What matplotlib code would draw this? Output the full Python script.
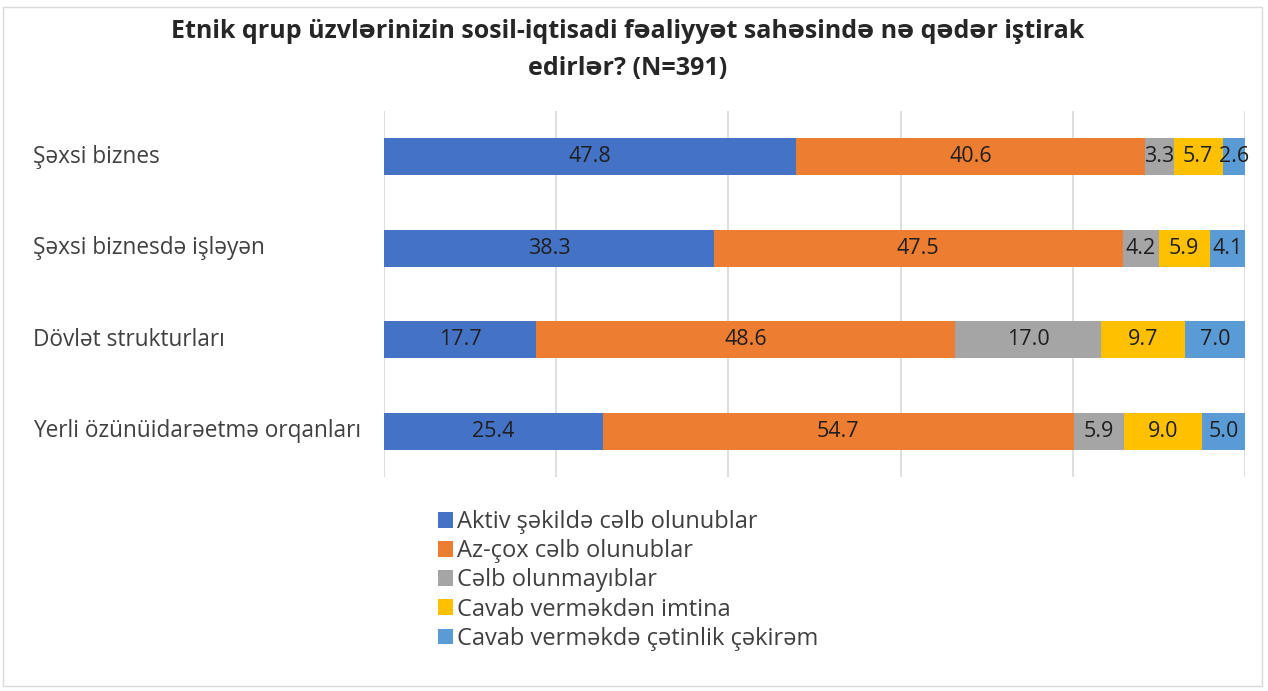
import numpy as np
import matplotlib.pyplot as plt
from matplotlib.patches import Rectangle
from matplotlib.transforms import blended_transform_factory

# Kateqoriyalar və seriyalar
categories = ['Şəxsi biznes', 'Şəxsi biznesdə işləyən', 'Dövlət strukturları',
              'Yerli özünüidarəetmə orqanları']
series_names = ['Aktiv şəkildə cəlb olunublar', 'Az-çox cəlb olunublar',
                'Cəlb olunmayıblar', 'Cavab verməkdən imtina',
                'Cavab verməkdə çətinlik çəkirəm']
aktiv = [47.8, 38.3, 17.7, 25.4]
az_cox = [40.6, 47.5, 48.6, 54.7]
celb_olunmayib = [3.3, 4.2, 17.0, 5.9]
imtina = [5.7, 5.9, 9.7, 9.0]
cetinlik = [2.6, 4.1, 7.0, 5.0]

colors = ['#4472C4', '#ED7D31', '#A5A5A5', '#FFC000', '#5B9BD5']
values = [aktiv, az_cox, celb_olunmayib, imtina, cetinlik]

plt.rcParams['font.family'] = ['Open Sans', 'DejaVu Sans']

fig = plt.figure(figsize=(12.68, 6.91), dpi=100)
ax = fig.add_axes([384 / 1268, 1 - 477 / 691, (1245 - 384) / 1268, (477 - 111) / 691])

y = np.arange(len(categories))
left = np.zeros(len(categories))
for name, vals, col in zip(series_names, values, colors):
    vals = np.array(vals)
    bars = ax.barh(y, vals, left=left, height=0.4, color=col, label=name, zorder=3)
    ax.bar_label(bars, labels=[f'{v:.1f}' for v in vals], label_type='center',
                 fontsize=15.5, color='#1f1f1f')
    left += vals

ax.set_xlim(0, 100)
ax.set_ylim(len(categories) - 0.5, -0.5)
ax.set_xticks(np.arange(0, 101, 20))
ax.xaxis.grid(True, color='#D9D9D9', linewidth=1.2, zorder=0)
ax.tick_params(axis='both', length=0, labelbottom=False)
ax.set_yticks(y)
ax.set_yticklabels([])
for s in ax.spines.values():
    s.set_visible(False)

# Kateqoriya adları (sola düzlənmiş)
trans = blended_transform_factory(fig.transFigure, ax.transData)
for yi, cat in zip(y, categories):
    fig.text(33 / 1268, yi, cat, fontsize=16.3, color='#404040',
             ha='left', va='center', transform=trans)

fig.text(628 / 1268, 1 - 50 / 691,
         'Etnik qrup üzvlərinizin sosil-iqtisadi fəaliyyət sahəsində nə qədər iştirak\nedirlər? (N=391)',
         ha='center', va='center', fontsize=18, fontweight='bold', color='#262626',
         linespacing=1.65)

leg = fig.legend(loc='upper left', bbox_to_anchor=(438 / 1268, 1 - 510 / 691),
                 frameon=False, fontsize=17, handlelength=0.65, handleheight=0.65,
                 handletextpad=0.15, labelspacing=0.22, borderaxespad=0, borderpad=0)
for txt in leg.get_texts():
    txt.set_color('#404040')

fig.patches.append(Rectangle((3 / 1268, 5 / 691), 1259 / 1268, 679 / 691,
                             transform=fig.transFigure, fill=False,
                             edgecolor='#D9D9D9', linewidth=1))

fig.savefig('out.png', dpi=100)
